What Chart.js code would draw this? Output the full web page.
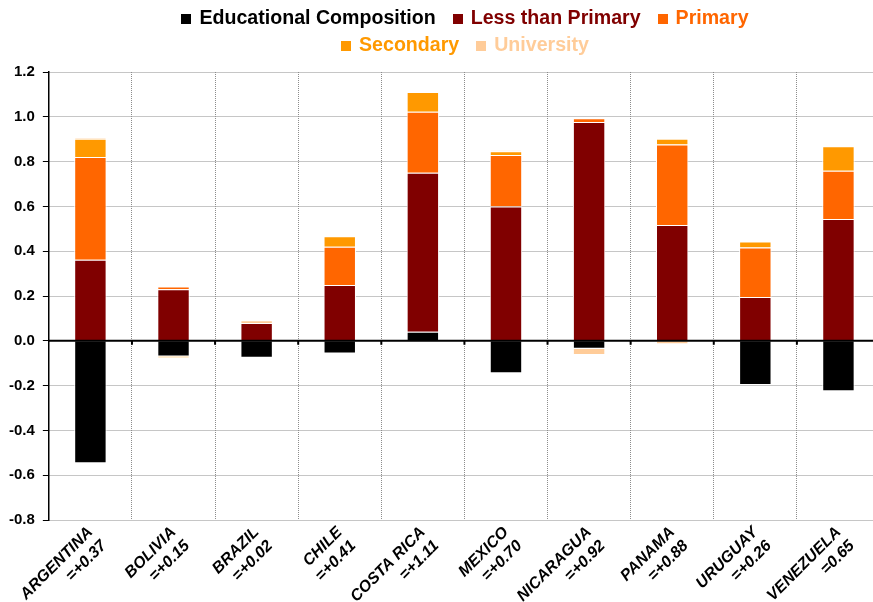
<!DOCTYPE html>
<html>
<head>
<meta charset="utf-8">
<script src="https://cdn.jsdelivr.net/npm/chart.js@4.4.1/dist/chart.umd.min.js"></script>
<style>
  html, body { margin: 0; padding: 0; overflow: hidden; background: #fff; }
  #wrap { position: absolute; left: 0; top: 0; width: 880px; height: 602px; }
  #legend {
    position: absolute; left: 155px; top: 4px; width: 620px;
    display: flex; flex-wrap: wrap; justify-content: center; column-gap: 17px;
    font: bold 19.6px "Liberation Sans", Arial, sans-serif; line-height: 27px;
  }
  .item { display: inline-flex; align-items: center; white-space: nowrap; }
  .box { width: 10px; height: 10px; margin-right: 8px; position: relative; top: 1px; }
</style>
</head>
<body>
<div id="wrap"><canvas id="chart"></canvas></div>
<div id="legend"></div>
<script>
// --- Data ---
const countries = ['ARGENTINA', 'BOLIVIA', 'BRAZIL', 'CHILE', 'COSTA RICA', 'MEXICO', 'NICARAGUA', 'PANAMA', 'URUGUAY', 'VENEZUELA'];
const totals = ['=+0.37', '=+0.15', '=+0.02', '=+0.41', '=+1.11', '=+0.70', '=+0.92', '=+0.88', '=+0.26', '=0.65'];

const seriesNames = ['Educational Composition', 'Less than Primary', 'Primary', 'Secondary', 'University'];
const seriesColors = ['#000000', '#800000', '#ff6600', '#ff9900', '#ffcc99'];

const educComp    = [-0.547, -0.070, -0.076, -0.057, 0.040, -0.145, -0.035, 0.000, -0.197, -0.225];
const lessPrimary = [0.362, 0.230, 0.079, 0.249, 0.710, 0.599, 0.977, 0.517, 0.195, 0.544];
const primary     = [0.459, 0.012, 0.000, 0.171, 0.272, 0.231, 0.017, 0.359, 0.221, 0.215];
const secondary   = [0.081, -0.006, 0.000, 0.047, 0.089, 0.016, 0.000, 0.026, 0.027, 0.109];
const university  = [0.004, 0.000, 0.013, 0.000, 0.000, 0.004, -0.028, -0.015, 0.000, 0.000];

const yTicks = { min: -0.8, max: 1.2, step: 0.2 };

const seriesData = [educComp, lessPrimary, primary, secondary, university];
const FONT = '"Liberation Sans", Arial, sans-serif';

// --- Legend (html) ---
const legendEl = document.getElementById('legend');
seriesNames.forEach((name, i) => {
  const item = document.createElement('span');
  item.className = 'item';
  item.style.color = seriesColors[i];
  const box = document.createElement('span');
  box.className = 'box';
  box.style.background = seriesColors[i];
  item.appendChild(box);
  item.appendChild(document.createTextNode(name));
  legendEl.appendChild(item);
});

// zero line + little ticks on it
const zeroLine = {
  id: 'zeroLine',
  afterDatasetsDraw(chart) {
    const { ctx, chartArea, scales: { x, y } } = chart;
    const y0 = y.getPixelForValue(0);
    ctx.save();
    ctx.strokeStyle = '#000';
    ctx.lineWidth = 2;
    ctx.beginPath();
    ctx.moveTo(chartArea.left, y0);
    ctx.lineTo(chartArea.right, y0);
    for (let i = 1; i < countries.length; i++) {
      const xb = (x.getPixelForValue(i - 1) + x.getPixelForValue(i)) / 2;
      ctx.moveTo(xb, y0);
      ctx.lineTo(xb, y0 + 4);
    }
    ctx.stroke();
    ctx.restore();
  }
};

Chart.defaults.font.family = FONT;

const chart = new Chart(document.getElementById('chart'), {
  type: 'bar',
  data: {
    labels: countries.map((c, i) => [c, totals[i]]),
    datasets: seriesNames.map((name, i) => ({
      label: name,
      data: seriesData[i],
      backgroundColor: seriesColors[i],
      borderColor: '#ffffff',
      borderWidth: 1,
      barPercentage: 0.39,
      categoryPercentage: 1
    }))
  },
  options: {
    responsive: true,
    maintainAspectRatio: false,
    animation: false,
    layout: { padding: { left: 1, top: 72, right: 0, bottom: 0 } },
    plugins: { legend: { display: false }, tooltip: { enabled: false } },
    scales: {
      x: {
        stacked: true,
        ticks: {
          color: '#000', autoSkip: false, minRotation: 45, maxRotation: 45, padding: 3,
          font: { size: 16, style: 'italic', weight: 'bold' }
        },
        grid: { color: '#8c8c8c', drawTicks: false },
        border: { display: false, dash: [1, 1] },
        afterFit: s => { s.height = 82; }
      },
      y: {
        stacked: true,
        min: yTicks.min, max: yTicks.max,
        ticks: {
          stepSize: yTicks.step, color: '#000', padding: 8,
          font: { size: 15, weight: 'bold' },
          callback: v => (Math.abs(v) < 1e-9 ? 0 : v).toFixed(1)
        },
        grid: { color: '#8c8c8c', tickColor: '#000', tickLength: 6 },
        border: { color: '#000', width: 1.5, dash: [1, 1] }
      }
    }
  },
  plugins: [zeroLine]
});
</script>
</body>
</html>
